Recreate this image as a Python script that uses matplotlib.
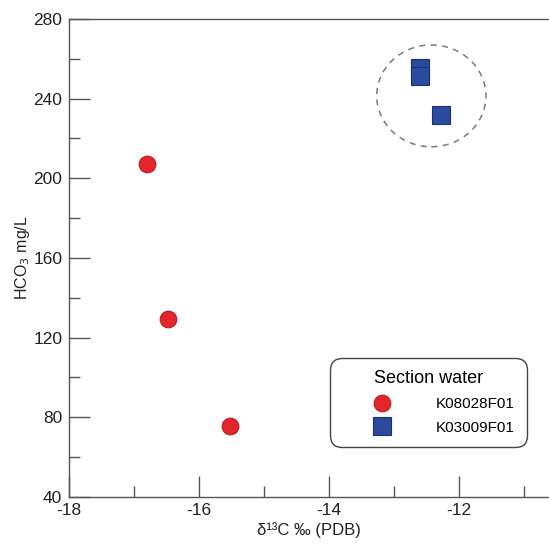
import matplotlib
matplotlib.use("Agg")
import matplotlib.pyplot as plt
from matplotlib.patches import Ellipse
from matplotlib.ticker import MultipleLocator

plt.rcParams['font.family'] = ['Liberation Sans', 'DejaVu Sans']
plt.rcParams['axes.unicode_minus'] = False

# Data
red_x = [-16.80, -16.48, -15.53]
red_y = [207.4, 129.5, 75.7]
blue_x = [-12.60, -12.60, -12.28]
blue_y = [255.5, 251.5, 232.0]
red_label = "K08028F01"
blue_label = "K03009F01"
legend_title = "Section water"
xticks = [-18, -16, -14, -12]
yticks = [40, 80, 120, 160, 200, 240, 280]

fig = plt.figure(figsize=(5.49, 5.47), dpi=100)
ax = fig.add_axes([0.1262, 0.0914, 1.0 - 0.1262, 0.9653 - 0.0914])

red_face = '#e3262b'
red_edge = '#b81c20'
blue_face = '#2b4a9e'
blue_edge = '#1b2f78'

ax.plot(red_x, red_y, linestyle='none', marker='o', markersize=12,
        markerfacecolor=red_face, markeredgecolor=red_edge, markeredgewidth=0.8,
        label=red_label, zorder=3)
ax.plot(blue_x, blue_y, linestyle='none', marker='s', markersize=12.5,
        markerfacecolor=blue_face, markeredgecolor=blue_edge, markeredgewidth=0.8,
        label=blue_label, zorder=3)

ell = Ellipse((-12.43, 241.4), 1.68, 51.1, fill=False, edgecolor='#7a7a7a',
              linestyle=(0, (4, 3.5)), linewidth=1.1, zorder=2)
ax.add_patch(ell)

ax.set_xlim(-18, -18 + (549 - 69.3) / 65.0)
ax.set_ylim(40, 280)
ax.set_xticks(xticks)
ax.set_yticks(yticks)
ax.xaxis.set_minor_locator(MultipleLocator(1))
ax.yaxis.set_minor_locator(MultipleLocator(20))
ax.tick_params(which='major', direction='in', length=15, width=1.0, color='#555555',
               labelsize=12.5, labelcolor='#222222', pad=5)
ax.tick_params(axis='x', which='major', pad=4)
ax.tick_params(which='minor', direction='in', length=8, width=1.0, color='#555555')
ax.tick_params(top=False, right=False, which='both')

for s in ['left', 'bottom', 'top']:
    ax.spines[s].set_color('#555555')
    ax.spines[s].set_linewidth(1.0)
ax.spines['right'].set_visible(False)

ax.set_xlabel('δ¹³C ‰ (PDB)', fontsize=12, color='#222222', labelpad=3)
ax.set_ylabel(r'HCO$_3$ mg/L', fontsize=11.5, color='#222222', labelpad=1)

leg = ax.legend(title=legend_title, loc='lower right', bbox_to_anchor=(0.954, 0.1046),
                frameon=True, fancybox=True, fontsize=11, title_fontsize=13,
                handlelength=5.3, handletextpad=0.85, borderpad=0.8, labelspacing=0.65,
                borderaxespad=0, edgecolor='#444444', markerscale=1.0)
leg.get_frame().set_linewidth(1.0)
leg.get_frame().set_alpha(1)
leg.get_frame().set_boxstyle('round,pad=0,rounding_size=0.8')

fig.savefig('out.png', dpi=100)
